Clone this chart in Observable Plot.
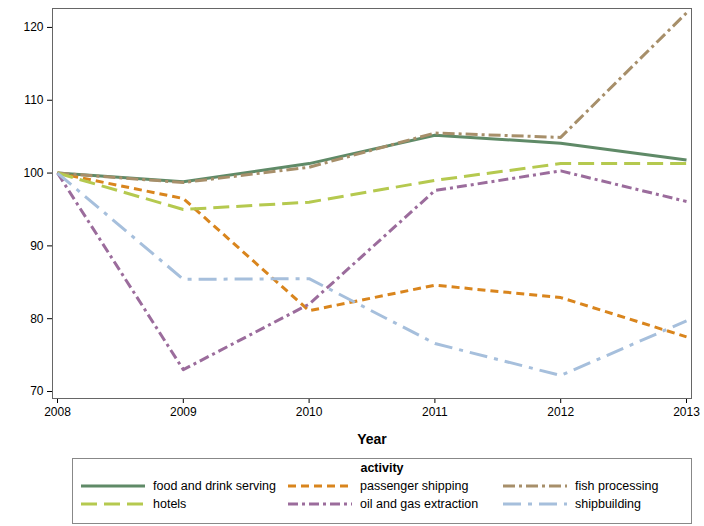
<!DOCTYPE html>
<html><head>
<meta charset="utf-8">
<script src="https://cdn.jsdelivr.net/npm/d3@7"></script>
<script src="https://cdn.jsdelivr.net/npm/@observablehq/plot@0.6"></script>
<style>
body{margin:0;background:#fff;font-family:"Liberation Sans",Arial,sans-serif;}
#legend{position:absolute;left:72px;top:458px;width:620px;height:66px;border:1px solid #888;box-sizing:border-box;font-size:12.5px;color:#000}
#legend .t{text-align:center;font-weight:bold;margin-top:2px}
#legend .item{position:absolute;display:flex;align-items:center;gap:8px}
</style>
</head><body>
<div id="myplot"></div>
<div id="legend"><div class="t">activity</div></div>
<script>
const years = [2008, 2009, 2010, 2011, 2012, 2013];
const activities = ["food and drink serving", "passenger shipping", "fish processing", "hotels", "oil and gas extraction", "shipbuilding"];
const colors = ["#5f8a67", "#d9851d", "#a78f6a", "#b5c94f", "#9b6c9c", "#a6bfdc"];
const dashes = [null, "8,5", "12,4,3,4", "16,7", "10,4,3,4", "18,7,4,7"];
const food = [100, 98.8, 101.3, 105.2, 104.1, 101.8];
const passenger = [100, 96.5, 81.1, 84.6, 82.9, 77.5];
const fish = [100, 98.7, 100.8, 105.5, 104.9, 122];
const hotels = [100, 95.0, 96.0, 99.0, 101.3, 101.3];
const oil = [100, 73.0, 82.0, 97.6, 100.3, 96.1];
const ship = [100, 85.4, 85.5, 76.6, 72.2, 79.7];
const series = [food, passenger, fish, hotels, oil, ship];

const data = activities.flatMap((a, i) => years.map((y, j) => ({activity: a, year: y, value: series[i][j]})));

const marks = [Plot.frame({stroke: "#666"})];
activities.forEach((a, i) => {
  marks.push(Plot.line(data.filter(d => d.activity == a), {
    x: "year", y: "value", stroke: colors[i], strokeWidth: 3,
    strokeDasharray: dashes[i], strokeLinecap: "butt"
  }));
});

const plot = Plot.plot({
  width: 704, height: 455,
  marginLeft: 52, marginRight: 13, marginTop: 8, marginBottom: 57,
  style: {fontFamily: "Liberation Sans, Arial, sans-serif", fontSize: "12px", color: "#000"},
  x: {domain: [2008, 2013], inset: 5, ticks: years, tickFormat: d => d.toString(), label: "Year", labelArrow: "none", labelAnchor: "center", labelOffset: 45, tickSize: 5},
  y: {domain: [69.04, 122.6], ticks: [70, 80, 90, 100, 110, 120], label: null, tickSize: 5},
  marks
});
document.querySelector("#myplot").append(plot);
d3.select(plot).selectAll("[aria-label='x-axis label'] text").style("font-weight", "bold").style("font-size", "14px");

const lg = d3.select("#legend");
const pos = [[8, 20], [215, 20], [430, 20], [8, 38], [215, 38], [430, 38]];
activities.forEach((a, i) => {
  const it = lg.append("div").attr("class", "item").style("left", pos[i][0] + "px").style("top", pos[i][1] + "px");
  const s = it.append("svg").attr("width", 64).attr("height", 10);
  s.append("line").attr("x1", 0).attr("x2", 64).attr("y1", 5).attr("y2", 5)
    .attr("stroke", colors[i]).attr("stroke-width", 3).attr("stroke-dasharray", dashes[i]);
  it.append("span").text(a);
});
</script>
</body></html>
